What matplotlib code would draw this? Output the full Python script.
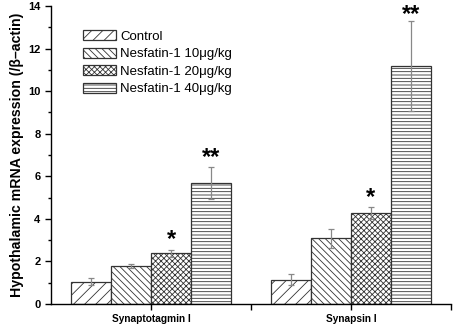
import matplotlib
matplotlib.use("Agg")
import matplotlib.pyplot as plt
import numpy as np

plt.rcParams['font.family'] = ['Liberation Sans', 'DejaVu Sans']
plt.rcParams['hatch.linewidth'] = 0.6
plt.rcParams['hatch.color'] = '#555555'

genes = ["Synaptotagmin I", "Synapsin I"]
groups = ["Control", "Nesfatin-1 10\u03bcg/kg", "Nesfatin-1 20\u03bcg/kg", "Nesfatin-1 40\u03bcg/kg"]
means = [
    [1.05, 1.13],
    [1.78, 3.08],
    [2.38, 4.26],
    [5.67, 11.19],
]
errors = [
    [0.18, 0.26],
    [0.08, 0.43],
    [0.16, 0.28],
    [0.75, 2.10],
]
stars = [
    ["", ""],
    ["", ""],
    ["*", "*"],
    ["**", "**"],
]
hatches = ["///", "\\\\\\\\\\", "xxxxxx", "-----"]

fig = plt.figure(figsize=(4.54, 3.26), dpi=100)
ax = fig.add_axes([51/454, 1-304/326, 400/454, 298/326])

x = np.arange(1, len(genes)+1)
width = 0.2
for i, g in enumerate(groups):
    pos = x + (i - 1.5) * width
    ax.bar(pos, means[i], width, color='white', edgecolor='#333333',
           linewidth=0.9, hatch=hatches[i], label=g, zorder=2)
    ax.errorbar(pos, means[i], yerr=errors[i], fmt='none', ecolor='#888888',
                elinewidth=0.9, capsize=2.5, capthick=0.9, zorder=3)
    for j in range(len(genes)):
        if stars[i][j]:
            top = means[i][j] + errors[i][j]
            dy = -1 if top < 12 else -3.5
            ax.annotate(stars[i][j], (pos[j], top),
                        xytext=(0, dy), textcoords='offset points',
                        ha='center', va='bottom', fontsize=17, fontweight='bold')

ax.set_xlim(0.5, 2.5)
ax.set_ylim(0, 14)
ax.set_xticks(x)
ax.set_xticklabels(genes, fontsize=7.3, fontweight='bold')
ax.set_xticks([1.5, 2.5], minor=True)
ax.set_yticks(np.arange(0, 15, 2))
ax.set_yticks(np.arange(1, 14, 2), minor=True)
for lab in ax.get_yticklabels():
    lab.set_fontweight('bold')
    lab.set_fontsize(8)
ax.tick_params(axis='both', which='major', direction='out', length=4, width=1)
ax.tick_params(axis='x', which='minor', direction='out', length=4, width=1)
ax.tick_params(axis='y', which='minor', direction='out', length=2.5, width=1)
ax.spines['top'].set_visible(False)
ax.spines['right'].set_visible(False)
ax.spines['left'].set_linewidth(1)
ax.spines['bottom'].set_linewidth(1)
ax.set_ylabel("Hypothalamic mRNA expression (/\u03b2\u2013actin)", fontsize=10.2,
              fontweight='bold', labelpad=3)

leg = ax.legend(loc='upper left', bbox_to_anchor=(0.068, 0.937), frameon=False,
                fontsize=9.5, handlelength=2.45, handleheight=0.78,
                handletextpad=0.35, labelspacing=0.38, borderaxespad=0)

fig.savefig("out.png", dpi=100)
